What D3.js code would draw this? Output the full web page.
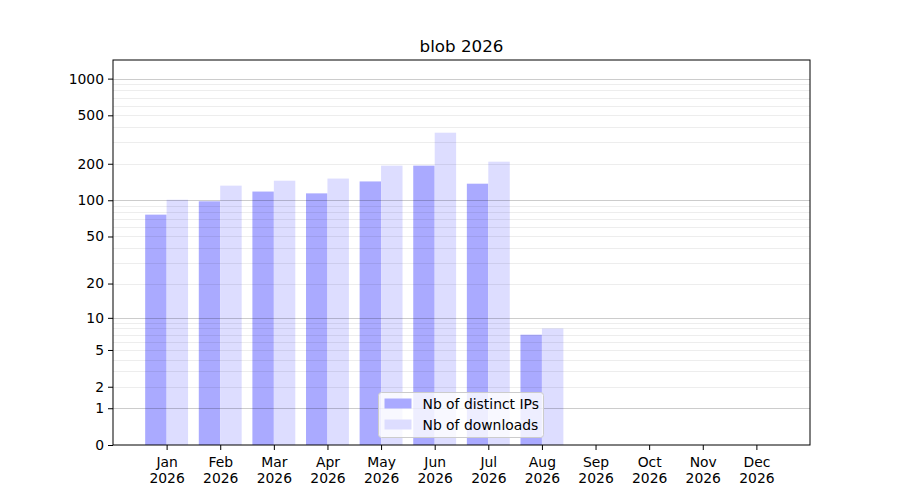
<!DOCTYPE html>
<html>
  <head>
    <meta charset="utf-8">
    <title>blob 2026</title>
    <style media="screen">
    body{margin: 0; background: #fff}
    text{font-family: "DejaVu Sans", sans-serif}
    </style>
  </head>
  <body>
    <script src="https://d3js.org/d3.v7.min.js"></script>
    <script type="text/javascript">
      var w = 900, h = 500;

      var months = ['Jan', 'Feb', 'Mar', 'Apr', 'May', 'Jun', 'Jul', 'Aug', 'Sep', 'Oct', 'Nov', 'Dec'];
      var year = '2026';
      var distinctIPs = [76, 98, 118, 114, 143, 193, 137, 7, 0, 0, 0, 0];
      var downloads = [101, 132, 145, 151, 193, 360, 208, 8, 0, 0, 0, 0];
      var yTicks = [0, 1, 2, 5, 10, 20, 50, 100, 200, 500, 1000];
      var majorGrid = [1, 10, 100, 1000];
      var minorGrid = [];
      [1, 10, 100].forEach(function(d){
        for (var k = 2; k <= 9; k++) minorGrid.push(d * k);
      });

      var mLeft = 113, mRight = 810, mTop = 60, mBottom = 445;

      var svg = d3.select('body').append('svg')
        .attr('width', w)
        .attr('height', h);

      var x = d3.scalePoint().domain(months).range([mLeft, mRight]).padding(1);
      var step = x.step();
      var bw = step * 0.4;

      var y = d3.scaleSymlog().constant(1).domain([0, 1421]).range([mBottom, mTop]);

      // bars
      svg.append('g').selectAll('rect')
        .data(months)
        .enter().append('rect')
          .attr('x', function(d){ return x(d) - bw })
          .attr('width', bw)
          .attr('y', function(d, i){ return y(distinctIPs[i]) })
          .attr('height', function(d, i){ return mBottom - y(distinctIPs[i]) })
          .attr('fill', '#aaaaff');

      svg.append('g').selectAll('rect')
        .data(months)
        .enter().append('rect')
          .attr('x', function(d){ return x(d) })
          .attr('width', bw)
          .attr('y', function(d, i){ return y(downloads[i]) })
          .attr('height', function(d, i){ return mBottom - y(downloads[i]) })
          .attr('fill', '#ddddff');

      // grid on top of bars
      svg.append('g').selectAll('line')
        .data(minorGrid)
        .enter().append('line')
          .attr('x1', mLeft).attr('x2', mRight)
          .attr('y1', function(d){ return Math.round(y(d)) + 0.5 })
          .attr('y2', function(d){ return Math.round(y(d)) + 0.5 })
          .attr('stroke', '#000').attr('stroke-opacity', 0.07);

      svg.append('g').selectAll('line')
        .data(majorGrid)
        .enter().append('line')
          .attr('x1', mLeft).attr('x2', mRight)
          .attr('y1', function(d){ return Math.round(y(d)) + 0.5 })
          .attr('y2', function(d){ return Math.round(y(d)) + 0.5 })
          .attr('stroke', '#000').attr('stroke-opacity', 0.2);

      // axes
      var yAxis = d3.axisLeft(y).tickValues(yTicks).tickFormat(d3.format('d'))
        .tickSize(5).tickPadding(4);
      var gy = svg.append('g').attr('transform', 'translate(' + mLeft + ',0)').call(yAxis);
      gy.select('.domain').remove();
      gy.selectAll('text').attr('font-size', '13.9px').attr('fill', '#000')
        .attr('font-family', 'DejaVu Sans');
      gy.selectAll('line').attr('stroke', '#000');

      var xAxis = d3.axisBottom(x).tickSize(5).tickFormat('');
      var gx = svg.append('g').attr('transform', 'translate(0,' + mBottom + ')').call(xAxis);
      gx.select('.domain').remove();
      gx.selectAll('line').attr('stroke', '#000');
      gx.selectAll('.tick').each(function(d){
        var t = d3.select(this).append('text')
          .attr('fill', '#000')
          .attr('font-size', '13.9px')
          .attr('font-family', 'DejaVu Sans')
          .attr('text-anchor', 'middle');
        t.append('tspan').attr('x', 0).attr('y', 22).text(d);
        t.append('tspan').attr('x', 0).attr('y', 38).text(year);
      });

      // frame
      svg.append('rect')
        .attr('x', mLeft).attr('y', mTop)
        .attr('width', mRight - mLeft).attr('height', mBottom - mTop)
        .attr('fill', 'none').attr('stroke', '#000').attr('stroke-width', 1);

      // title
      svg.append('text')
        .attr('x', (mLeft + mRight) / 2).attr('y', 52)
        .attr('text-anchor', 'middle')
        .attr('font-size', '16.7px')
        .text('blob ' + year);

      // legend
      var legendItems = [
        {label: 'Nb of distinct IPs', color: '#aaaaff'},
        {label: 'Nb of downloads', color: '#ddddff'}
      ];
      var lg = svg.append('g').attr('transform', 'translate(378.5,392.5)');
      lg.append('rect')
        .attr('width', 165).attr('height', 45).attr('rx', 3)
        .attr('fill', '#fff').attr('fill-opacity', 0.8)
        .attr('stroke', '#ccc');
      var li = lg.selectAll('g.item')
        .data(legendItems)
        .enter().append('g')
          .attr('transform', function(d, i){ return 'translate(6,' + (6 + i * 21) + ')' });
      li.append('rect')
        .attr('width', 27).attr('height', 10)
        .attr('fill', function(d){ return d.color });
      li.append('text')
        .attr('x', 38).attr('y', 10)
        .attr('font-size', '13.9px')
        .text(function(d){ return d.label });
    </script>
  </body>
</html>
